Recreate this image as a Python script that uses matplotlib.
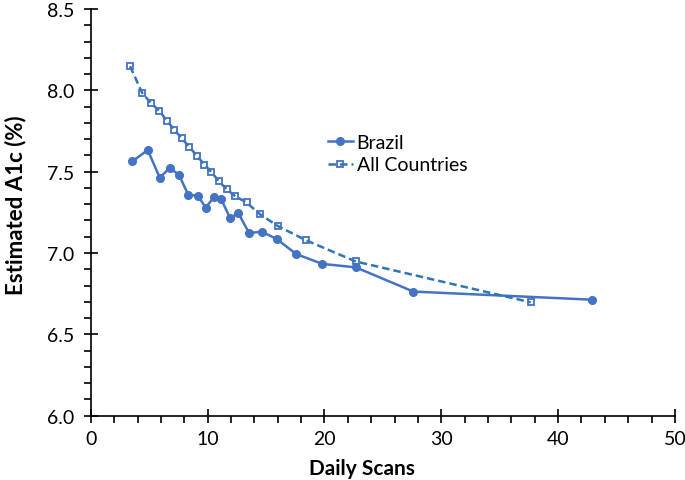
import matplotlib.pyplot as plt
from matplotlib.ticker import MultipleLocator

plt.rcParams["font.family"] = ["Lato", "DejaVu Sans"]

# Brazil
brazil_scans = [3.56, 4.87, 5.90, 6.75, 7.53, 8.35, 9.15, 9.84, 10.55, 11.15,
                11.92, 12.63, 13.54, 14.63, 15.92, 17.57, 19.82, 22.68, 27.61, 42.94]
brazil_a1c = [7.564, 7.633, 7.463, 7.523, 7.482, 7.357, 7.353, 7.279, 7.345, 7.332,
              7.215, 7.246, 7.123, 7.131, 7.086, 6.994, 6.933, 6.912, 6.763, 6.713]

# All countries
all_scans = [3.36, 4.41, 5.13, 5.86, 6.52, 7.15, 7.78, 8.41, 9.07, 9.72,
             10.33, 10.96, 11.64, 12.36, 13.33, 14.46, 16.03, 18.40, 22.68, 37.66]
all_a1c = [8.148, 7.982, 7.924, 7.873, 7.813, 7.758, 7.705, 7.654, 7.598, 7.544,
           7.497, 7.441, 7.392, 7.349, 7.311, 7.239, 7.165, 7.079, 6.948, 6.697]

fig = plt.figure(figsize=(6.85, 4.81), dpi=100)
ax = fig.add_axes([0.1326, 0.1337, 0.8526, 0.8455])

ax.plot(brazil_scans, brazil_a1c, color="#4472C4", linewidth=1.8,
        marker="o", markersize=5.5, label="Brazil")
ax.plot(all_scans, all_a1c, color="#2E75B6", linewidth=1.8, linestyle=(0, (3, 1.6)),
        marker="s", markersize=4.8, markerfacecolor="none",
        markeredgecolor="#4472C4", markeredgewidth=1.3, label="All Countries")

ax.set_xlim(0, 50)
ax.set_ylim(6.0, 8.5)
ax.xaxis.set_major_locator(MultipleLocator(10))
ax.xaxis.set_minor_locator(MultipleLocator(2))
ax.yaxis.set_major_locator(MultipleLocator(0.5))
ax.yaxis.set_minor_locator(MultipleLocator(0.1))
ax.yaxis.set_major_formatter(lambda v, p: f"{v:.1f}")

for side in ["top", "right"]:
    ax.spines[side].set_visible(False)
for side in ["left", "bottom"]:
    ax.spines[side].set_linewidth(1.2)

ax.tick_params(which="major", direction="inout", length=10, width=1.2,
               labelsize=14, colors="black")
ax.tick_params(axis="y", which="major", pad=7)
ax.tick_params(axis="x", which="major", pad=5)
ax.tick_params(which="minor", direction="out", length=5, width=1.2)

ax.set_xlabel("Daily Scans", fontsize=15, fontweight="bold", labelpad=2)
ax.xaxis.set_label_coords(0.464, -0.105)
ax.set_ylabel("Estimated A1c (%)", fontsize=16, fontweight="bold", labelpad=10)
ax.yaxis.set_label_coords(-0.11, 0.52)

ax.legend(loc="upper left", bbox_to_anchor=(0.392, 0.713), frameon=False,
          fontsize=14, handlelength=1.3, handletextpad=0.2, labelspacing=0.3,
          borderaxespad=0)

plt.savefig("out.png", dpi=100)
